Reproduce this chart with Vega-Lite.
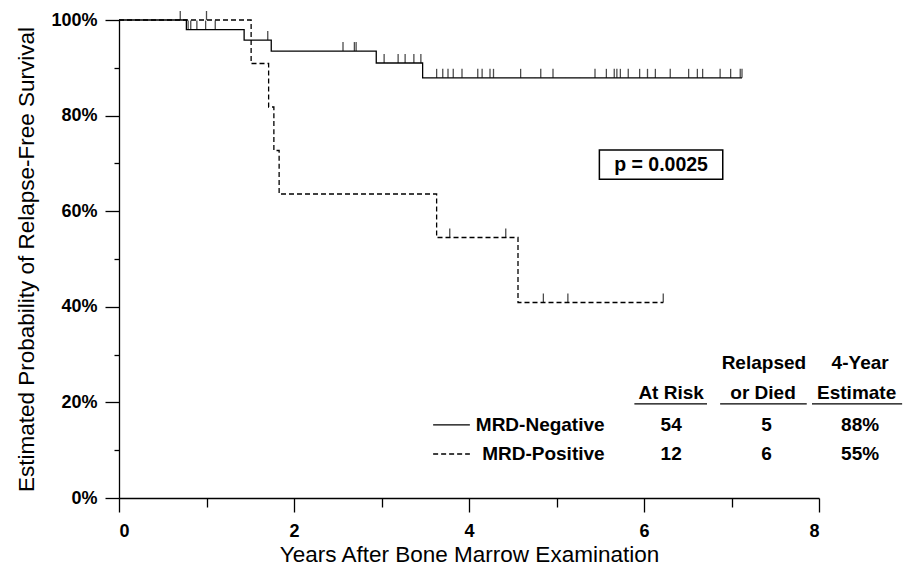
{
  "$schema": "https://vega.github.io/schema/vega-lite/v6.json",
  "width": 700,
  "height": 478,
  "autosize": {"type": "none"},
  "padding": {"left": 119, "top": 20, "right": 85, "bottom": 71},
  "background": "white",
  "config": {
    "view": {"stroke": null},
    "font": "Liberation Sans",
    "axis": {
      "domainColor": "black", "domainWidth": 1.3, "tickColor": "black", "tickWidth": 1.3,
      "labelColor": "black", "labelFont": "Liberation Sans", "labelFontWeight": "bold", "labelFontSize": 18,
      "titleColor": "black", "titleFont": "Liberation Sans", "titleFontWeight": "normal", "titleFontSize": 22.5,
      "grid": false
    }
  },
  "datasets": {
    "km": [
      {"group": "MRD-Negative", "t": 0, "s": 1},
      {"group": "MRD-Negative", "t": 0.77, "s": 0.98},
      {"group": "MRD-Negative", "t": 1.43, "s": 0.958},
      {"group": "MRD-Negative", "t": 1.74, "s": 0.935},
      {"group": "MRD-Negative", "t": 2.94, "s": 0.91},
      {"group": "MRD-Negative", "t": 3.47, "s": 0.879},
      {"group": "MRD-Negative", "t": 7.12, "s": 0.879},
      {"group": "MRD-Positive", "t": 0, "s": 1},
      {"group": "MRD-Positive", "t": 1.51, "s": 0.909},
      {"group": "MRD-Positive", "t": 1.71, "s": 0.818},
      {"group": "MRD-Positive", "t": 1.77, "s": 0.727},
      {"group": "MRD-Positive", "t": 1.83, "s": 0.636},
      {"group": "MRD-Positive", "t": 3.63, "s": 0.545},
      {"group": "MRD-Positive", "t": 4.56, "s": 0.409},
      {"group": "MRD-Positive", "t": 6.22, "s": 0.409}
    ],
    "censor": [
      {"group": "MRD-Negative", "t": 0.70, "s": 1},
      {"group": "MRD-Negative", "t": 0.79, "s": 0.98},
      {"group": "MRD-Negative", "t": 0.82, "s": 0.98},
      {"group": "MRD-Negative", "t": 0.89, "s": 0.98},
      {"group": "MRD-Negative", "t": 0.99, "s": 0.98},
      {"group": "MRD-Negative", "t": 1.10, "s": 0.98},
      {"group": "MRD-Negative", "t": 1.70, "s": 0.958},
      {"group": "MRD-Negative", "t": 2.56, "s": 0.935},
      {"group": "MRD-Negative", "t": 2.69, "s": 0.935},
      {"group": "MRD-Negative", "t": 2.71, "s": 0.935},
      {"group": "MRD-Negative", "t": 3.03, "s": 0.91},
      {"group": "MRD-Negative", "t": 3.19, "s": 0.91},
      {"group": "MRD-Negative", "t": 3.27, "s": 0.91},
      {"group": "MRD-Negative", "t": 3.37, "s": 0.91},
      {"group": "MRD-Negative", "t": 3.45, "s": 0.91},
      {"group": "MRD-Negative", "t": 3.63, "s": 0.879},
      {"group": "MRD-Negative", "t": 3.70, "s": 0.879},
      {"group": "MRD-Negative", "t": 3.76, "s": 0.879},
      {"group": "MRD-Negative", "t": 3.82, "s": 0.879},
      {"group": "MRD-Negative", "t": 3.92, "s": 0.879},
      {"group": "MRD-Negative", "t": 4.10, "s": 0.879},
      {"group": "MRD-Negative", "t": 4.15, "s": 0.879},
      {"group": "MRD-Negative", "t": 4.24, "s": 0.879},
      {"group": "MRD-Negative", "t": 4.28, "s": 0.879},
      {"group": "MRD-Negative", "t": 4.59, "s": 0.879},
      {"group": "MRD-Negative", "t": 4.82, "s": 0.879},
      {"group": "MRD-Negative", "t": 4.96, "s": 0.879},
      {"group": "MRD-Negative", "t": 5.44, "s": 0.879},
      {"group": "MRD-Negative", "t": 5.57, "s": 0.879},
      {"group": "MRD-Negative", "t": 5.66, "s": 0.879},
      {"group": "MRD-Negative", "t": 5.69, "s": 0.879},
      {"group": "MRD-Negative", "t": 5.73, "s": 0.879},
      {"group": "MRD-Negative", "t": 5.82, "s": 0.879},
      {"group": "MRD-Negative", "t": 5.95, "s": 0.879},
      {"group": "MRD-Negative", "t": 6.04, "s": 0.879},
      {"group": "MRD-Negative", "t": 6.13, "s": 0.879},
      {"group": "MRD-Negative", "t": 6.30, "s": 0.879},
      {"group": "MRD-Negative", "t": 6.51, "s": 0.879},
      {"group": "MRD-Negative", "t": 6.61, "s": 0.879},
      {"group": "MRD-Negative", "t": 6.67, "s": 0.879},
      {"group": "MRD-Negative", "t": 6.87, "s": 0.879},
      {"group": "MRD-Negative", "t": 6.99, "s": 0.879},
      {"group": "MRD-Negative", "t": 7.10, "s": 0.879},
      {"group": "MRD-Negative", "t": 7.12, "s": 0.879},
      {"group": "MRD-Positive", "t": 1.00, "s": 1},
      {"group": "MRD-Positive", "t": 3.78, "s": 0.545},
      {"group": "MRD-Positive", "t": 4.42, "s": 0.545},
      {"group": "MRD-Positive", "t": 4.85, "s": 0.409},
      {"group": "MRD-Positive", "t": 5.13, "s": 0.409},
      {"group": "MRD-Positive", "t": 6.22, "s": 0.409}
    ],
    "tableText": [
      {"label": "Relapsed", "t": 7.37, "s": 0.282},
      {"label": "4-Year", "t": 8.47, "s": 0.282},
      {"label": "At Risk", "t": 6.31, "s": 0.22},
      {"label": "or Died", "t": 7.36, "s": 0.22},
      {"label": "Estimate", "t": 8.43, "s": 0.22},
      {"label": "54", "t": 6.31, "s": 0.153},
      {"label": "5", "t": 7.4, "s": 0.153},
      {"label": "88%", "t": 8.47, "s": 0.153},
      {"label": "12", "t": 6.31, "s": 0.092},
      {"label": "6", "t": 7.4, "s": 0.092},
      {"label": "55%", "t": 8.47, "s": 0.092}
    ],
    "rowLabels": [
      {"label": "MRD-Negative", "t": 5.55, "s": 0.153},
      {"label": "MRD-Positive", "t": 5.55, "s": 0.092}
    ],
    "underlines": [
      {"t": 5.89, "t2": 6.72, "s": 0.197},
      {"t": 6.87, "t2": 7.86, "s": 0.197},
      {"t": 7.92, "t2": 8.95, "s": 0.197}
    ],
    "legendLines": [
      {"group": "MRD-Negative", "t": 3.59, "t2": 4.01, "s": 0.153},
      {"group": "MRD-Positive", "t": 3.59, "t2": 4.01, "s": 0.092}
    ],
    "pbox": [
      {"label": "p = 0.0025", "t": 5.49, "t2": 6.9, "s": 0.667, "s2": 0.728, "tc": 6.195, "sc": 0.697}
    ]
  },
  "layer": [
    {
      "data": {"name": "km"},
      "mark": {"type": "line", "interpolate": "step-after", "color": "black", "strokeWidth": 1.3},
      "encoding": {
        "x": {
          "field": "t", "type": "quantitative",
          "scale": {"domain": [0, 8], "nice": false, "zero": true},
          "axis": {
            "title": "Years After Bone Marrow Examination",
            "values": [0, 1, 2, 3, 4, 5, 6, 7, 8],
            "format": "d",
            "labelExpr": "datum.value % 2 === 0 ? datum.label : ''",
            "tickSize": {"condition": {"test": "datum.value % 2 === 0", "value": 14}, "value": 9},
            "labelPadding": 10,
            "titlePadding": 3
          }
        },
        "y": {
          "field": "s", "type": "quantitative",
          "scale": {"domain": [0, 1], "nice": false, "zero": true},
          "axis": {
            "title": "Estimated Probability of Relapse-Free Survival",
            "values": [0, 0.1, 0.2, 0.3, 0.4, 0.5, 0.6, 0.7, 0.8, 0.9, 1],
            "format": ".0%",
            "labelExpr": "round(datum.value * 10) % 2 === 0 ? datum.label : ''",
            "tickSize": {"condition": {"test": "round(datum.value * 10) % 2 === 0", "value": 14}, "value": 5},
            "labelPadding": 8,
            "titlePadding": 12
          }
        },
        "detail": {"field": "group"},
        "strokeDash": {
          "field": "group", "type": "nominal",
          "scale": {"domain": ["MRD-Negative", "MRD-Positive"], "range": [[1, 0], [5, 3]]},
          "legend": null
        }
      }
    },
    {
      "data": {"name": "censor"},
      "mark": {"type": "tick", "orient": "vertical", "color": "black", "size": 9, "thickness": 1.3, "yOffset": -4.5},
      "encoding": {
        "x": {"field": "t", "type": "quantitative"},
        "y": {"field": "s", "type": "quantitative"}
      }
    },
    {
      "data": {"name": "legendLines"},
      "mark": {"type": "rule", "color": "black", "strokeWidth": 1.3},
      "encoding": {
        "x": {"field": "t", "type": "quantitative"},
        "x2": {"field": "t2"},
        "y": {"field": "s", "type": "quantitative"},
        "strokeDash": {
          "field": "group", "type": "nominal",
          "scale": {"domain": ["MRD-Negative", "MRD-Positive"], "range": [[1, 0], [5, 3]]},
          "legend": null
        }
      }
    },
    {
      "data": {"name": "underlines"},
      "mark": {"type": "rule", "color": "black", "strokeWidth": 1.3},
      "encoding": {
        "x": {"field": "t", "type": "quantitative"},
        "x2": {"field": "t2"},
        "y": {"field": "s", "type": "quantitative"}
      }
    },
    {
      "data": {"name": "tableText"},
      "mark": {"type": "text", "align": "center", "baseline": "middle", "fontWeight": "bold", "fontSize": 19, "font": "Liberation Sans", "color": "black"},
      "encoding": {
        "x": {"field": "t", "type": "quantitative"},
        "y": {"field": "s", "type": "quantitative"},
        "text": {"field": "label"}
      }
    },
    {
      "data": {"name": "rowLabels"},
      "mark": {"type": "text", "align": "right", "baseline": "middle", "fontWeight": "bold", "fontSize": 19, "font": "Liberation Sans", "color": "black"},
      "encoding": {
        "x": {"field": "t", "type": "quantitative"},
        "y": {"field": "s", "type": "quantitative"},
        "text": {"field": "label"}
      }
    },
    {
      "data": {"name": "pbox"},
      "mark": {"type": "rect", "fill": "white", "stroke": "black", "strokeWidth": 1.5},
      "encoding": {
        "x": {"field": "t", "type": "quantitative"},
        "x2": {"field": "t2"},
        "y": {"field": "s", "type": "quantitative"},
        "y2": {"field": "s2"}
      }
    },
    {
      "data": {"name": "pbox"},
      "mark": {"type": "text", "align": "center", "baseline": "middle", "fontWeight": "bold", "fontSize": 19.5, "font": "Liberation Sans", "color": "black"},
      "encoding": {
        "x": {"field": "tc", "type": "quantitative"},
        "y": {"field": "sc", "type": "quantitative"},
        "text": {"field": "label"}
      }
    }
  ]
}
